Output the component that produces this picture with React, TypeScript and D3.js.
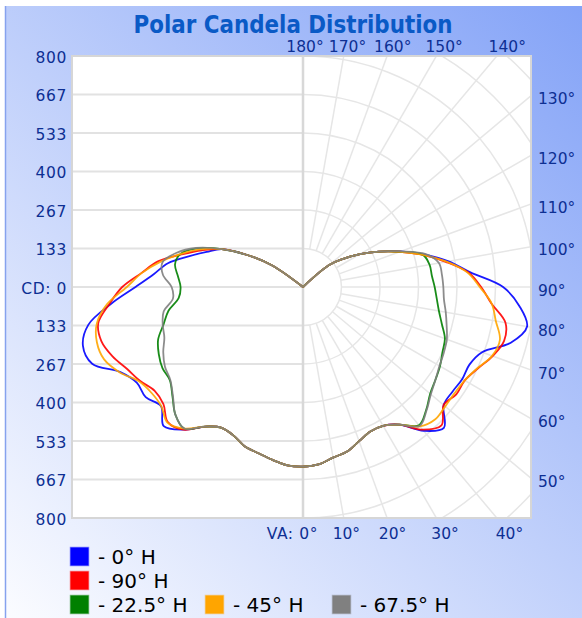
import * as d3 from 'd3';

// vertical angles (degrees from nadir)
const verticalAngles = [0, 5, 10, 15, 20, 25, 30, 35, 40, 45, 50, 55, 60, 65, 70, 75, 80, 85, 90, 95, 100, 105, 110, 115, 120, 125, 130, 135, 140, 145, 150, 155, 160, 165, 170, 175, 180];

// candela per plane (right half = plane, left half = opposite plane)
const cd0H = [622, 617, 600, 590, 568, 552, 555, 582, 650, 690, 636, 632, 637, 636, 660, 745, 788, 752, 693, 582, 512, 435, 360, 290, 228, 170, 118, 0, 0, 0, 0, 0, 0, 0, 0, 0, 0];
const cd180H = [622, 620, 608, 596, 588, 568, 563, 590, 645, 682, 642, 665, 664, 698, 777, 789, 755, 667, 580, 518, 475, 410, 355, 310, 220, 130, 0, 0, 0, 0, 0, 0, 0, 0, 0, 0, 0];
const cd90H = [622, 617, 600, 590, 568, 552, 555, 582, 645, 678, 636, 648, 647, 668, 699, 721, 712, 655, 617, 575, 502, 430, 357, 290, 228, 170, 118, 0, 0, 0, 0, 0, 0, 0, 0, 0, 0];
const cd270H = [622, 620, 608, 596, 588, 568, 563, 590, 645, 662, 631, 627, 651, 672, 702, 723, 720, 673, 626, 561, 510, 435, 372, 310, 220, 130, 0, 0, 0, 0, 0, 0, 0, 0, 0, 0, 0];
const cd22H = [622, 617, 600, 590, 568, 552, 555, 582, 625, 603, 575, 560, 548, 533, 523, 498, 478, 465, 456, 448, 445, 430, 357, 290, 228, 170, 118, 0, 0, 0, 0, 0, 0, 0, 0, 0, 0];
const cd202H = [622, 620, 608, 596, 588, 568, 563, 590, 640, 625, 590, 563, 562, 551, 534, 500, 473, 432, 424, 435, 450, 440, 390, 310, 220, 130, 0, 0, 0, 0, 0, 0, 0, 0, 0, 0, 0];
const cd45H = [622, 617, 600, 590, 568, 552, 555, 582, 630, 648, 643, 641, 647, 666, 697, 706, 678, 656, 612, 572, 505, 430, 357, 290, 228, 170, 118, 0, 0, 0, 0, 0, 0, 0, 0, 0, 0];
const cd225H = [622, 620, 608, 596, 588, 568, 563, 590, 640, 664, 641, 640, 655, 700, 733, 739, 725, 681, 610, 560, 502, 440, 380, 310, 220, 130, 0, 0, 0, 0, 0, 0, 0, 0, 0, 0, 0];
const cd67H = [622, 617, 600, 590, 568, 552, 555, 582, 628, 605, 578, 560, 546, 538, 530, 515, 502, 490, 486, 483, 478, 440, 360, 290, 228, 170, 118, 0, 0, 0, 0, 0, 0, 0, 0, 0, 0];
const cd247H = [622, 620, 608, 596, 588, 568, 563, 590, 640, 625, 588, 561, 552, 534, 511, 503, 490, 452, 455, 487, 494, 455, 395, 310, 220, 130, 0, 0, 0, 0, 0, 0, 0, 0, 0, 0, 0];

const seriesNames = ['- 0° H', '- 90° H', '- 22.5° H', '- 45° H', '- 67.5° H'];
const seriesColors = ['#0000ff', '#ff0000', '#008000', '#ffa500', '#808080'];

// axis labels
const cdTicks = [800, 666.7, 533.3, 400, 266.7, 133.3, 0, -133.3, -266.7, -400, -533.3, -666.7, -800];
const cdTickLabels = ['800', '667', '533', '400', '267', '133', 'CD: 0', '133', '267', '400', '533', '667', '800'];
const topAngles = [180, 170, 160, 150, 140];
const sideAngles = [130, 120, 110, 100, 90, 80, 70, 60, 50];
const bottomAngles = [0, 10, 20, 30, 40];

const W = 582;
const H = 618;

export default function App() {
  const cx = 303, cy = 287, R = 231;
  const plotLeft = cx - R, plotTop = cy - R, plotBottom = cy + R, plotRight = 531;
  const r = d3.scaleLinear().domain([0, 800]).range([0, R]);
  const y = d3.scaleLinear().domain([800, -800]).range([plotTop, plotBottom]);
  const rad = (deg: number) => (deg * Math.PI) / 180;

  const radial = d3.lineRadial<[number, number]>()
    .angle(d => d[0])
    .radius(d => r(d[1]))
    .curve(d3.curveCatmullRom.alpha(0.5));

  // left half runs from the zenith down to nadir, right half back up; the centre point is kept once per side
  const pathFor = (right: number[], left: number[]) => {
    const lastLeft = left.findIndex(v => v === 0);
    const lastRight = right.findIndex(v => v === 0);
    const pts: [number, number][] = [];
    for (let i = lastLeft; i >= 0; i--) pts.push([Math.PI + rad(verticalAngles[i]), left[i]]);
    for (let i = 1; i <= lastRight; i++) pts.push([Math.PI - rad(verticalAngles[i]), right[i]]);
    return radial(pts) || '';
  };

  const series = [
    [cd0H, cd180H], [cd90H, cd270H], [cd22H, cd202H], [cd45H, cd225H], [cd67H, cd247H],
  ];

  const rings = d3.range(1, 10).map(k => r((800 / 6) * k));
  const spokes = d3.range(0, 181, 10);
  const gridColor = '#e2e2e2';
  const polarColor = '#e6e6e6';
  const labelColor = '#0d2f93';

  const legendPos = [[70, 547], [70, 571], [70, 595], [205, 595], [332, 595]];

  return (
    <svg width={W} height={H} style={{ position: 'absolute', left: 0, top: 0 }} fontFamily="DejaVu Sans">
      <defs>
        <linearGradient id="bg" gradientUnits="userSpaceOnUse" x1={5} y1={618} x2={582} y2={6}>
          <stop offset="0" stopColor="#fbfcff" />
          <stop offset="1" stopColor="#84a3f7" />
        </linearGradient>
        <clipPath id="polarClip">
          <rect x={cx} y={plotTop} width={plotRight - cx} height={plotBottom - plotTop} />
        </clipPath>
      </defs>
      <rect width={W} height={H} fill="#fff" />
      <rect x={5} y={6} width={W - 5} height={H - 6} fill="url(#bg)" />
      <line x1={5.5} x2={5.5} y1={6} y2={H} stroke="#86a2ee" strokeWidth={1.5} />

      <text x={293} y={33} textAnchor="middle" fontSize={25} fontWeight="bold" fill="#0a5ac6"
        textLength={319} lengthAdjust="spacingAndGlyphs">Polar Candela Distribution</text>

      <rect x={plotLeft} y={plotTop} width={plotRight - plotLeft} height={plotBottom - plotTop}
        fill="#fff" stroke="#d6d6d6" strokeWidth={2} />

      {/* left half: horizontal grid */}
      {cdTicks.slice(1, -1).map((v, i) => (
        <line key={'h' + i} x1={plotLeft} x2={cx} y1={y(v)} y2={y(v)} stroke={gridColor} strokeWidth={2} />
      ))}

      {/* right half: polar grid */}
      <g clipPath="url(#polarClip)">
        <g transform={`translate(${cx},${cy})`}>
          {rings.map((rr, i) => (
            <circle key={'c' + i} r={rr} fill="none" stroke={polarColor} strokeWidth={1.5} />
          ))}
          {spokes.map(a => (
            <line key={'s' + a}
              x1={rings[0] * Math.sin(rad(a))} y1={rings[0] * Math.cos(rad(a))}
              x2={400 * Math.sin(rad(a))} y2={400 * Math.cos(rad(a))}
              stroke={polarColor} strokeWidth={1.5} />
          ))}
        </g>
      </g>
      <line x1={cx} x2={cx} y1={plotTop} y2={plotBottom} stroke="#d8d8d8" strokeWidth={2.5} />
      <rect x={plotLeft} y={plotTop} width={plotRight - plotLeft} height={plotBottom - plotTop}
        fill="none" stroke="#d6d6d6" strokeWidth={2} />

      {/* curves */}
      <g transform={`translate(${cx},${cy})`}>
        {series.map(([right, left], i) => (
          <path key={'p' + i} d={pathFor(right, left)} fill="none" stroke={seriesColors[i]}
            strokeWidth={1.8} strokeLinejoin="round" opacity={0.9} />
        ))}
      </g>

      {/* left candela labels */}
      {cdTicks.map((v, i) => (
        <text key={'l' + i} x={67} y={y(v) + 6.6} textAnchor="end" fontSize={15.5} letterSpacing={0.6}
          fill={labelColor}>
          {cdTickLabels[i]}
        </text>
      ))}

      {/* top angle labels */}
      {topAngles.map(a => (
        <text key={'t' + a} x={cx + 241 * Math.tan(rad(180 - a)) + 2} y={51.5} textAnchor="middle"
          fontSize={15.5} fill={labelColor}>{a}°</text>
      ))}

      {/* right angle labels */}
      {sideAngles.map(a => (
        <text key={'r' + a} x={538} y={cy + (plotRight - cx) / Math.tan(rad(a)) + 8.6}
          fontSize={15.5} fill={labelColor}>{a}°</text>
      ))}

      {/* bottom angle labels */}
      {bottomAngles.map(a => (
        a === 0
          ? <text key={'b' + a} x={318} y={539} textAnchor="end" fontSize={15.5} letterSpacing={0.6}
              fill={labelColor}>VA: 0°</text>
          : <text key={'b' + a} x={cx + 246 * Math.tan(rad(a))} y={539} textAnchor="middle"
              fontSize={15.5} fill={labelColor}>{a}°</text>
      ))}

      {/* legend */}
      {seriesNames.map((name, i) => (
        <g key={'g' + i} transform={`translate(${legendPos[i][0]},${legendPos[i][1]})`}>
          <rect x={0.5} y={0.5} width={18} height={18} fill={seriesColors[i]}
            stroke={seriesColors[i]} strokeOpacity={0.45} strokeWidth={1.5} />
          <text x={28} y={16.5} fontSize={20} fill="#000">{name}</text>
        </g>
      ))}
    </svg>
  );
}
